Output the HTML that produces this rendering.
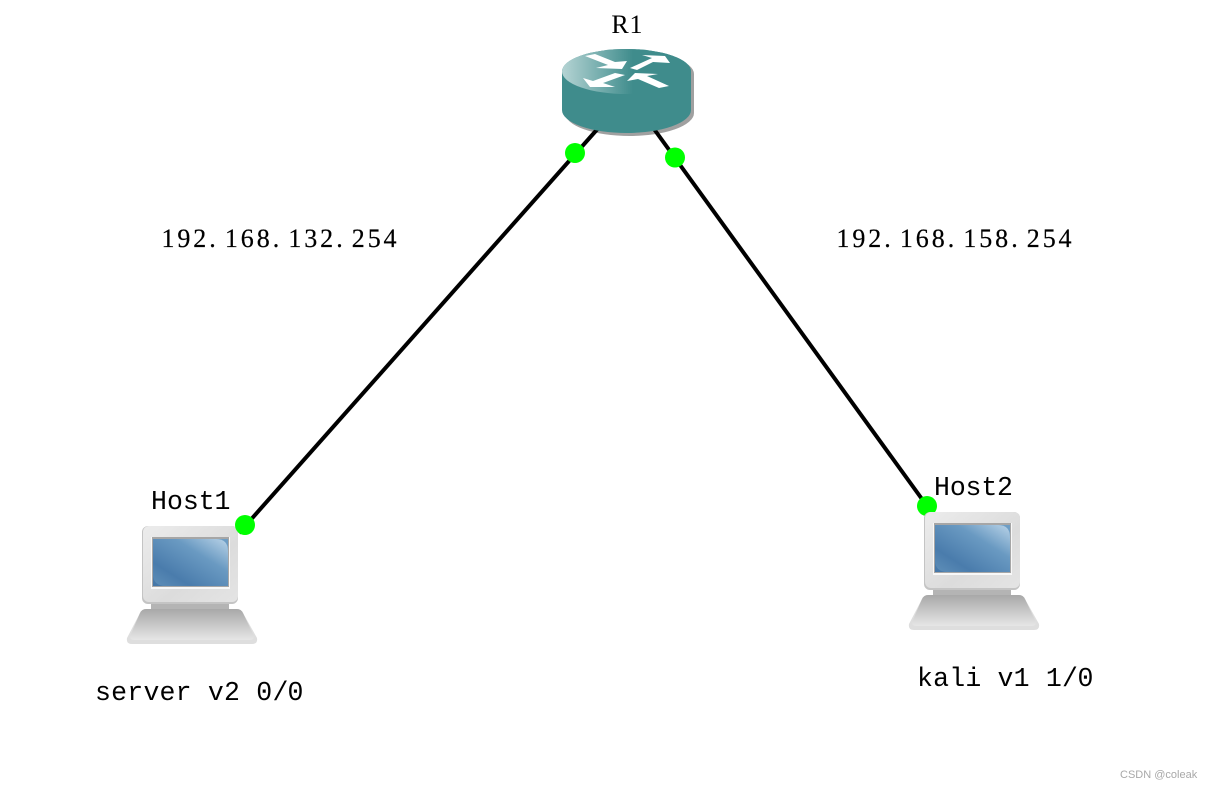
<!DOCTYPE html>
<html>
<head>
<meta charset="utf-8">
<title>Network topology</title>
<style>
html,body{margin:0;padding:0;background:#fff;width:1212px;height:788px;overflow:hidden}
svg{display:block}
.t{font-family:"Liberation Serif",serif;font-size:26px;fill:#000;stroke:#000;stroke-width:.2px;text-anchor:middle;white-space:pre}
.m{font-family:"Liberation Mono",monospace;font-size:26.500px;fill:#000;text-anchor:middle;white-space:pre}
.w{font-family:"Liberation Sans",sans-serif;font-size:11px;fill:#a8a8a8}
</style>
</head>
<body>
<svg width="1212" height="788" viewBox="0 0 1212 788" xmlns="http://www.w3.org/2000/svg">
<defs>
<linearGradient id="top" x1="0" y1="0" x2="1" y2="0">
<stop offset="0" stop-color="#b5d4d4"/><stop offset="0.55" stop-color="#3f8c8c"/><stop offset="1" stop-color="#3f8c8c"/>
</linearGradient>
<linearGradient id="mon" x1="0" y1="0" x2="1" y2="1">
<stop offset="0" stop-color="#ececec"/><stop offset="0.6" stop-color="#dcdcdc"/><stop offset="1" stop-color="#e4e4e4"/>
</linearGradient>
<linearGradient id="scr" x1="0" y1="1" x2="1" y2="0">
<stop offset="0" stop-color="#4577a8"/><stop offset="1" stop-color="#6f9fc6"/>
</linearGradient>
<linearGradient id="gloss" x1="0" y1="1" x2="1" y2="0">
<stop offset="0" stop-color="#5f8fb8"/><stop offset="0.25" stop-color="#4a7cac"/><stop offset="0.65" stop-color="#6a9ac2"/><stop offset="1" stop-color="#b9d3e8"/>
</linearGradient>
<linearGradient id="kb" x1="0" y1="0" x2="0" y2="1">
<stop offset="0" stop-color="#a8a8a8"/><stop offset="1" stop-color="#e6e6e6"/>
</linearGradient>
<g id="host">
<rect x="151" y="602" width="78" height="9" fill="#b4b4b4"/>
<path d="M146 609H237Q241 609 243 613L257 638Q258 644 252 644H132Q126 644 127 638L140 613Q142 609 146 609Z" fill="#dedede"/>
<path d="M146 609H237Q241 609 243 613L254 636Q254 640 250 640H134Q130 640 130 636L140 613Q142 609 146 609Z" fill="url(#kb)"/>
<rect x="142" y="526" width="96" height="78" rx="6" fill="#c4c4c4"/>
<rect x="143" y="526" width="95" height="76" rx="6" fill="url(#mon)"/>
<rect x="151" y="537" width="79" height="52" fill="#f8f8f8"/>
<rect x="152" y="537" width="77" height="50" fill="#a6a6a6"/>
<rect x="153" y="539" width="75" height="47" fill="url(#scr)"/>
<path d="M153 539H216Q228 539 228 551V586H166Q153 586 153 574Z" fill="url(#gloss)"/>
</g>
</defs>

<!-- Router shadow beneath the links -->
<path d="M565 74A64.500 22.500 0 0 1 694 74V113A64.500 23 0 0 1 565 113Z" fill="#a0a0a0"/>

<line x1="597.500" y1="129" x2="239" y2="533" stroke="#000" stroke-width="4"/>
<line x1="654" y1="129" x2="927" y2="506" stroke="#000" stroke-width="4"/>

<circle cx="927" cy="506" r="10" fill="#00ff00"/>

<use href="#host"/>
<use href="#host" transform="translate(782,-14)"/>

<!-- Router body -->
<path d="M562 71.500A64.500 22.500 0 0 1 691 71.500V110A64.500 23 0 0 1 562 110Z" fill="#3f8c8c"/>
<ellipse cx="626.500" cy="71.500" rx="64.500" ry="22.500" fill="url(#top)"/>
<g fill="#fff">
<polygon points="585,56 595,54 615,62 627,61 622,69 596,68 608,65"/>
<polygon points="630,68 652,58 642,55 665,56 670,63 653,62 637,70"/>
<polygon points="583,78 590,87 615,87 603,83 625,75 615,73 593,81"/>
<polygon points="627,81 635,73 658,74 647,76 669,86 659,88 638,79"/>
</g>

<circle cx="575" cy="153" r="10" fill="#00ff00"/>
<circle cx="675" cy="157.500" r="10" fill="#00ff00"/>
<circle cx="245" cy="525" r="10" fill="#00ff00"/>

<text class="t" y="33" x="620 636" style="stroke-width:0">R1</text>
<text class="t" y="247" x="168 183.900 199.700 212.500 231.400 247.300 263.200 276 294.900 310.700 326.600 339.500 358.300 374.200 390">192.168.132.254</text>
<text class="t" y="247" x="843 858.900 874.700 887.500 906.400 922.300 938.200 951 969.900 985.700 1001.600 1014.500 1033.300 1049.200 1065">192.168.158.254</text>
<text class="m" y="509" x="159 174.900 190.800 206.700 222.500">Host1</text>
<text class="m" y="495" x="942 957.800 973.500 989.300 1005">Host2</text>
<text class="m" y="700" x="103 119.100 135.200 151.400 167.500 183.600 199.700 215.800 232 248.100 264.200 280.400 295.500">server v2 0/0</text>
<text class="m" y="686" x="925 941.100 957.200 973.300 989.400 1005.500 1021.600 1037.700 1053.800 1069.900 1085.500">kali v1 1/0</text>
<text class="w" x="1120" y="778">CSDN @coleak</text>
</svg>
</body>
</html>
